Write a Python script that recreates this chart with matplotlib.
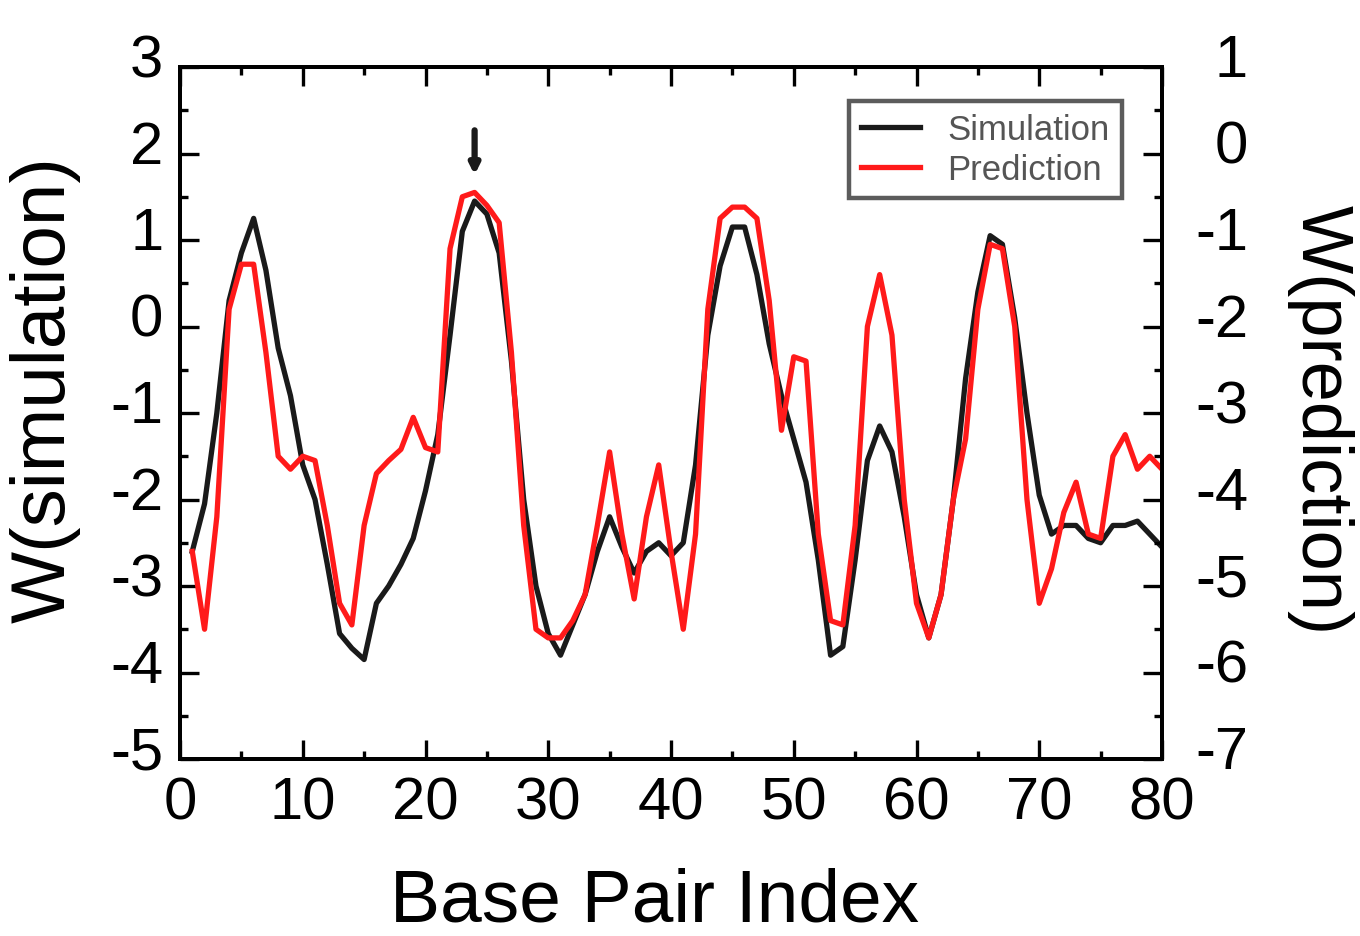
import numpy as np
import matplotlib
matplotlib.use('Agg')
import matplotlib.pyplot as plt
from matplotlib.ticker import MultipleLocator
from matplotlib.transforms import ScaledTranslation

plt.rcParams['font.family'] = ['Liberation Sans', 'DejaVu Sans']
plt.rcParams['axes.unicode_minus'] = False

# Base pair index
bp = list(range(1, 81))

# W(simulation), left axis
w_sim = [-2.6, -2.05, -1.0, 0.3, 0.85, 1.25, 0.65, -0.25, -0.8, -1.6,
         -2.0, -2.75, -3.55, -3.72, -3.85, -3.2, -3.0, -2.75, -2.45, -1.9,
         -1.25, -0.1, 1.1, 1.45, 1.3, 0.85, -0.4, -2.0, -3.0, -3.55,
         -3.8, -3.45, -3.1, -2.6, -2.2, -2.55, -2.85, -2.6, -2.5, -2.65,
         -2.5, -1.6, -0.1, 0.7, 1.15, 1.15, 0.6, -0.2, -0.8, -1.3,
         -1.8, -2.7, -3.8, -3.7, -2.7, -1.55, -1.15, -1.45, -2.2, -3.1,
         -3.6, -3.1, -2.0, -0.6, 0.4, 1.05, 0.95, 0.1, -1.0, -1.95,
         -2.4, -2.3, -2.3, -2.45, -2.5, -2.3, -2.3, -2.25, -2.4, -2.55]

# W(prediction), right axis
w_pred = [-4.6, -5.5, -4.2, -1.8, -1.28, -1.28, -2.3, -3.5, -3.65, -3.5,
          -3.55, -4.3, -5.2, -5.45, -4.3, -3.7, -3.55, -3.42, -3.05, -3.4,
          -3.45, -1.1, -0.5, -0.45, -0.6, -0.8, -2.3, -4.3, -5.5, -5.6,
          -5.6, -5.4, -5.1, -4.3, -3.45, -4.4, -5.15, -4.2, -3.6, -4.6,
          -5.5, -4.4, -1.8, -0.75, -0.62, -0.62, -0.75, -1.7, -3.2, -2.35,
          -2.4, -4.4, -5.4, -5.45, -4.3, -2.0, -1.4, -2.1, -4.0, -5.2,
          -5.6, -5.1, -4.0, -3.3, -1.8, -1.05, -1.1, -2.0, -4.0, -5.2,
          -4.8, -4.15, -3.8, -4.4, -4.45, -3.5, -3.25, -3.65, -3.5, -3.65]

arrow_bp = 24

fig = plt.figure(figsize=(13.6, 9.37), dpi=100)
ax = fig.add_axes([180 / 1360, 1 - 760 / 937, 982 / 1360, 692 / 937])
ax2 = ax.twinx()

l1, = ax.plot(bp, w_sim, color='#1a1a1a', lw=3.8, label='Simulation',
              solid_joinstyle='round')
l2, = ax2.plot(bp, w_pred, color='#ff1a1a', lw=3.8, label='Prediction',
               solid_joinstyle='round')

ax.set_xlim(0, 80)
ax.set_ylim(-5, 3)
ax2.set_ylim(-7, 1)

ax.xaxis.set_major_locator(MultipleLocator(10))
ax.xaxis.set_minor_locator(MultipleLocator(5))
for a in (ax, ax2):
    a.yaxis.set_major_locator(MultipleLocator(1))
    a.yaxis.set_minor_locator(MultipleLocator(0.5))

ax.tick_params(axis='x', which='both', direction='in', top=True, labelsize=43, pad=12)
ax.tick_params(axis='y', which='both', direction='in', right=False, labelsize=43, pad=12)
ax2.tick_params(axis='y', which='both', direction='in', labelsize=43, pad=62)
for a in (ax, ax2):
    a.tick_params(which='major', length=14, width=2.4)
    a.tick_params(which='minor', length=6, width=2.4)
for s in ax.spines.values():
    s.set_linewidth(2.8)
for s in ax2.spines.values():
    s.set_linewidth(2.8)

# y tick labels sit a little above their ticks; right labels right aligned
off = ScaledTranslation(0, 12 / 100, fig.dpi_scale_trans)
for lab in ax.get_yticklabels():
    lab.set_transform(lab.get_transform() + off)
for lab in ax2.get_yticklabels():
    lab.set_transform(lab.get_transform() + off)
    lab.set_horizontalalignment('right')

ax.annotate('', xy=(arrow_bp, 1.72), xytext=(arrow_bp, 2.3),
            arrowprops=dict(arrowstyle='-|>', lw=4.5, color='#1a1a1a',
                            mutation_scale=14))

leg = ax2.legend(handles=[l1, l2], loc='upper right',
                 bbox_to_anchor=(1122 / 1360, 1 - 102 / 937),
                 bbox_transform=fig.transFigure, fontsize=25,
                 frameon=True, fancybox=False, borderaxespad=0,
                 handlelength=1.7, handletextpad=0.8, borderpad=0.35,
                 labelspacing=0.2)
leg.get_frame().set_edgecolor('#333333')
leg.get_frame().set_linewidth(3.2)
for t in leg.get_texts():
    t.set_color('#555555')

fig.text(45 / 1360, 1 - 390 / 937, 'W(simulation)', rotation=90,
         ha='center', va='center', fontsize=55)
fig.text(1320 / 1360, 1 - 420 / 937, 'W(prediction)', rotation=270,
         ha='center', va='center', fontsize=52)
fig.text(655 / 1360, 1 - 902 / 937, 'Base Pair Index',
         ha='center', va='center', fontsize=54)

fig.savefig('out.png', dpi=100)
